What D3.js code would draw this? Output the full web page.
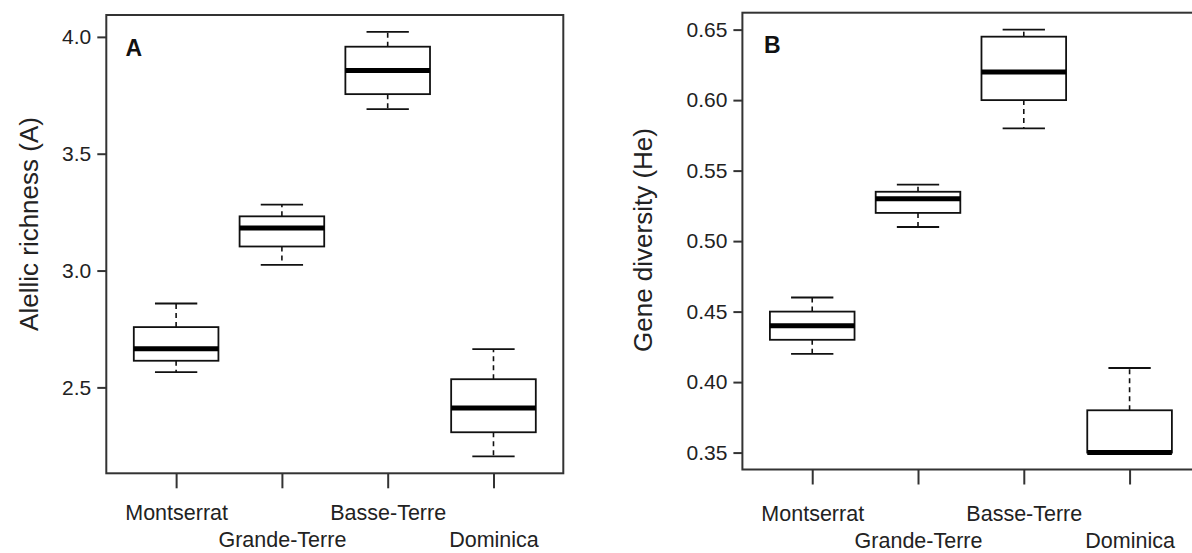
<!DOCTYPE html>
<html>
<head>
<meta charset="utf-8">
<script src="https://cdn.jsdelivr.net/npm/d3@7"></script>
<style>
  html, body { margin: 0; padding: 0; background: #fff; }
  svg { display: block; font-family: "Liberation Sans", Arial, sans-serif; }
</style>
</head>
<body>
<svg id="chart" width="1192" height="553"></svg>
<script>
// ---- Data ----
const categories = ["Montserrat", "Grande-Terre", "Basse-Terre", "Dominica"];

// Panel A: Allelic richness (A)
const richMin    = [2.565, 3.024, 3.691, 2.205];
const richQ1     = [2.614, 3.103, 3.755, 2.308];
const richMedian = [2.665, 3.182, 3.856, 2.412];
const richQ3     = [2.758, 3.232, 3.958, 2.535];
const richMax    = [2.859, 3.282, 4.021, 2.664];
const richTicks  = [2.5, 3.0, 3.5, 4.0];

// Panel B: Gene diversity (He)
const divMin    = [0.420, 0.510, 0.580, 0.350];
const divQ1     = [0.430, 0.520, 0.600, 0.350];
const divMedian = [0.440, 0.530, 0.620, 0.350];
const divQ3     = [0.450, 0.535, 0.645, 0.380];
const divMax    = [0.460, 0.540, 0.650, 0.410];
const divTicks  = [0.35, 0.40, 0.45, 0.50, 0.55, 0.60, 0.65];

const svg = d3.select("#chart");

function panel(cfg) {
  const g = svg.append("g");
  const n = categories.length;
  const x = d3.scaleLinear().domain([0.5 - 0.04 * n, n + 0.5 + 0.04 * n]).range([cfg.left, cfg.right]);
  const lo = d3.min(cfg.min), hi = d3.max(cfg.max), ext = (hi - lo) * 0.04;
  const y = d3.scaleLinear().domain([lo - ext, hi + ext]).range([cfg.bottom, cfg.top]);

  const rows = categories.map((c, i) => ({
    i: i + 1, min: cfg.min[i], q1: cfg.q1[i], med: cfg.med[i], q3: cfg.q3[i], max: cfg.max[i]
  }));
  const boxW = (x(2) - x(1)) * 0.8;
  const capW = boxW / 2;

  // whiskers (dashed)
  g.selectAll(".whiskU").data(rows).join("line")
    .attr("x1", d => x(d.i)).attr("x2", d => x(d.i))
    .attr("y1", d => y(d.q3)).attr("y2", d => y(d.max))
    .attr("stroke", "#111").attr("stroke-width", 1.6).attr("stroke-dasharray", "5,4");
  g.selectAll(".whiskL").data(rows).join("line")
    .attr("x1", d => x(d.i)).attr("x2", d => x(d.i))
    .attr("y1", d => y(d.q1)).attr("y2", d => y(d.min))
    .attr("stroke", "#111").attr("stroke-width", 1.6).attr("stroke-dasharray", "5,4");
  // caps
  g.selectAll(".capU").data(rows).join("line")
    .attr("x1", d => x(d.i) - capW / 2).attr("x2", d => x(d.i) + capW / 2)
    .attr("y1", d => y(d.max)).attr("y2", d => y(d.max))
    .attr("stroke", "#111").attr("stroke-width", 1.8);
  g.selectAll(".capL").data(rows).join("line")
    .attr("x1", d => x(d.i) - capW / 2).attr("x2", d => x(d.i) + capW / 2)
    .attr("y1", d => y(d.min)).attr("y2", d => y(d.min))
    .attr("stroke", "#111").attr("stroke-width", 1.8);
  // boxes
  g.selectAll(".box").data(rows).join("rect")
    .attr("x", d => x(d.i) - boxW / 2).attr("width", boxW)
    .attr("y", d => y(d.q3)).attr("height", d => y(d.q1) - y(d.q3))
    .attr("fill", "#fff").attr("stroke", "#111").attr("stroke-width", 1.8);
  // medians
  g.selectAll(".med").data(rows).join("line")
    .attr("x1", d => x(d.i) - boxW / 2).attr("x2", d => x(d.i) + boxW / 2)
    .attr("y1", d => y(d.med)).attr("y2", d => y(d.med))
    .attr("stroke", "#000").attr("stroke-width", 5);

  // frame
  g.append("rect")
    .attr("x", cfg.left).attr("y", cfg.top)
    .attr("width", cfg.right - cfg.left).attr("height", cfg.bottom - cfg.top)
    .attr("fill", "none").attr("stroke", "#333").attr("stroke-width", 2);

  // y axis
  const ya = g.append("g").attr("transform", `translate(${cfg.left},0)`)
    .call(d3.axisLeft(y).tickValues(cfg.ticks).tickFormat(d3.format(cfg.fmt)).tickSize(9).tickPadding(6));
  ya.select(".domain").remove();
  ya.selectAll(".tick line").attr("stroke", "#333").attr("stroke-width", 2);
  ya.selectAll(".tick text").attr("fill", "#222").style("font-size", "21px");

  // x axis
  const xa = g.append("g").attr("transform", `translate(0,${cfg.bottom})`)
    .call(d3.axisBottom(x).tickValues([1, 2, 3, 4]).tickFormat(i => categories[i - 1]).tickSize(15).tickPadding(0));
  xa.select(".domain").remove();
  xa.selectAll(".tick line").attr("stroke", "#333").attr("stroke-width", 2);
  xa.selectAll(".tick text").attr("fill", "#222").style("font-size", "21.5px")
    .attr("dy", null)
    .attr("y", (d, i) => (i % 2 === 0 ? 520.5 : 547.5) - cfg.bottom);

  // y title
  g.append("text")
    .attr("transform", `translate(${cfg.titleX},${cfg.titleY}) rotate(-90)`)
    .attr("text-anchor", "middle").attr("fill", "#222")
    .style("font-size", "26px").text(cfg.title);

  // panel letter
  g.append("text").attr("x", cfg.letterX).attr("y", cfg.letterY)
    .attr("fill", "#111").style("font-size", "23px").style("font-weight", "bold")
    .text(cfg.letter);
}

panel({
  left: 106.3, right: 563.3, top: 15, bottom: 473.3,
  min: richMin, q1: richQ1, med: richMedian, q3: richQ3, max: richMax,
  ticks: richTicks, fmt: ".1f",
  title: "Alellic richness (A)", titleX: 38, titleY: 224,
  letter: "A", letterX: 125.5, letterY: 55.7
});

panel({
  left: 742.4, right: 1199.4, top: 12.7, bottom: 469.5,
  min: divMin, q1: divQ1, med: divMedian, q3: divQ3, max: divMax,
  ticks: divTicks, fmt: ".2f",
  title: "Gene diversity  (He)", titleX: 652, titleY: 240,
  letter: "B", letterX: 764, letterY: 52.7
});
</script>
</body>
</html>
